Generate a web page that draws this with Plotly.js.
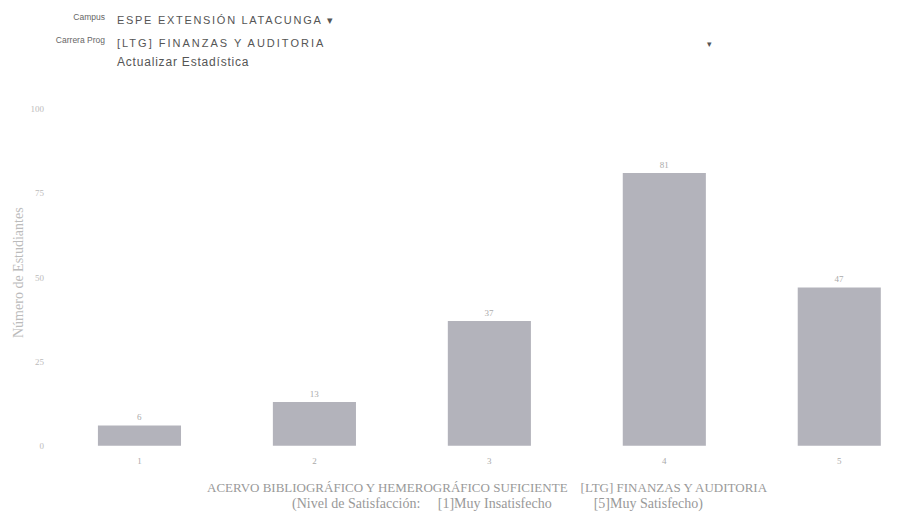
<!DOCTYPE html>
<html>
<head>
<meta charset="utf-8">
<script src="https://cdn.plot.ly/plotly-3.0.1.min.js"></script>
<style>
  html, body { margin:0; padding:0; background:#fff; width:911px; height:528px; overflow:hidden; }
  #chart { position:absolute; left:0; top:0; width:911px; height:528px; }
  .lbl { position:absolute; font-family:"Liberation Sans", Arial, sans-serif; color:#666; font-size:8.5px; text-align:right; width:100px; }
  .sel { position:absolute; font-family:"Liberation Sans", Arial, sans-serif; color:#555; font-size:11px; letter-spacing:1.7px; white-space:nowrap; }
</style>
</head>
<body>
<div id="chart"></div>
<div class="lbl" style="left:5px; top:12px;">Campus</div>
<div class="sel" style="left:117px; top:14px;">ESPE EXTENSIÓN LATACUNGA ▾</div>
<div class="lbl" style="left:5px; top:35px;">Carrera Prog</div>
<div class="sel" style="left:117px; top:37px; letter-spacing:2px;">[LTG] FINANZAS Y AUDITORIA</div>
<div class="sel" style="left:707px; top:39px; font-size:9px;">▾</div>
<div class="sel" style="left:117px; top:55px; letter-spacing:0.8px; font-size:12px;">Actualizar Estadística</div>
<script>
const categories = ["1", "2", "3", "4", "5"];
const counts = [6, 13, 37, 81, 47];
const yTicks = [0, 25, 50, 75, 100];
const yTitle = "Número de Estudiantes";
const xTitle1 = "ACERVO BIBLIOGRÁFICO Y HEMEROGRÁFICO SUFICIENTE \u00a0\u00a0 [LTG] FINANZAS Y AUDITORIA";
const xTitle2 = "(Nivel de Satisfacción: \u00a0\u00a0\u00a0\u00a0[1]Muy Insatisfecho \u00a0\u00a0\u00a0\u00a0\u00a0\u00a0\u00a0\u00a0\u00a0\u00a0 [5]Muy Satisfecho)";

const trace = {
  type: "bar",
  x: categories,
  y: counts,
  text: counts.map(String),
  textposition: "outside",
  textfont: {family: "Liberation Serif, serif", size: 9, color: "#aaa"},
  marker: {color: "#b3b3bb", line: {width: 0}},
  hoverinfo: "x+y",
  cliponaxis: false
};

const layout = {
  width: 911, height: 528,
  margin: {l: 45, r: 0, t: 99, b: 79},
  paper_bgcolor: "#fff",
  plot_bgcolor: "#fff",
  showlegend: false,
  bargap: 0.525,
  xaxis: {
    type: "category",
    range: [-0.54, 4.41],
    showgrid: false, zeroline: false, showline: false,
    ticks: "",
    ticklabelstandoff: 5,
    tickfont: {family: "Liberation Serif, serif", size: 9, color: "#aaa"},
    fixedrange: true
  },
  yaxis: {
    range: [-1, 103],
    tickvals: yTicks,
    ticktext: yTicks.map(String),
    showgrid: false, zeroline: false, showline: false,
    ticks: "",
    tickfont: {family: "Liberation Serif, serif", size: 9, color: "#bbb"},
    fixedrange: true
  },
  annotations: [
    {text: xTitle1, xref: "paper", yref: "paper", x: (487-45)/866, y: (449-487)/350,
     xanchor: "center", yanchor: "middle", showarrow: false,
     font: {family: "Liberation Serif, serif", size: 13, color: "#999"}},
    {text: xTitle2, xref: "paper", yref: "paper", x: (497-45)/866, y: (449-504)/350,
     xanchor: "center", yanchor: "middle", showarrow: false,
     font: {family: "Liberation Serif, serif", size: 14, color: "#999"}},
    {text: yTitle, xref: "paper", yref: "paper", x: (18-45)/866, y: (449-273)/350,
     xanchor: "center", yanchor: "middle", showarrow: false, textangle: -90,
     font: {family: "Liberation Serif, serif", size: 14, color: "#bbb"}}
  ]
};

Plotly.newPlot("chart", [trace], layout, {displayModeBar: false, staticPlot: true});
</script>
</body>
</html>
